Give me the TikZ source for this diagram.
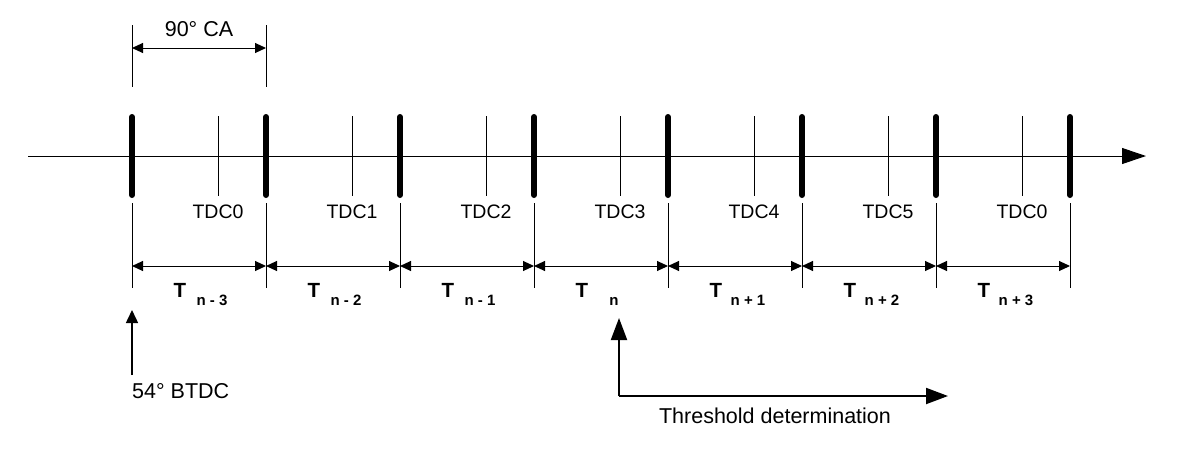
\documentclass[tikz,border=0pt]{standalone}
\usepackage{fontspec}
\setmainfont{Liberation Sans}
\usetikzlibrary{arrows.meta,calc}
\begin{document}
\begin{tikzpicture}[x=1pt,y=-1pt,
  lbl/.style={inner sep=0pt,anchor=base,font=\fontsize{19.5}{20}\selectfont},
  biglbl/.style={inner sep=0pt,anchor=base,font=\fontsize{21.5}{22}\selectfont},
  tlbl/.style={inner sep=0pt,anchor=base,font=\fontsize{20.5}{21}\selectfont\bfseries},
  sublbl/.style={inner sep=0pt,anchor=base,font=\fontsize{15}{15}\selectfont\bfseries},
  thinline/.style={line width=1pt},
  thickmark/.style={line width=6pt,line cap=round},
  dimarrow/.style={line width=1pt,{Triangle[length=11pt,width=10pt]}-{Triangle[length=11pt,width=10pt]}},
  axisarrow/.style={line width=1pt,-{Triangle[length=24pt,width=16pt]}},
  bigarrow/.style={line width=2pt,-{Triangle[length=22pt,width=16pt]}},
  smallarrow/.style={line width=1.5pt,-{Triangle[length=13pt,width=12pt]}}]
\useasboundingbox (0,0) rectangle (1200,456);
% axis
\coordinate (axs) at (28,156);
\coordinate (axe) at (1146,156);
\draw[axisarrow] (axs) -- (axe);
% marks
\foreach \i in {0,...,7}{
  \coordinate (mt\i) at ({132+134*\i},117);
  \coordinate (mb\i) at ({132+134*\i},195);
  \coordinate (et\i) at ({132+134*\i},203);
  \coordinate (eb\i) at ({132+134*\i},288);
  \coordinate (ed\i) at ({132+134*\i},266);
  \draw[thickmark] (mt\i) -- (mb\i);
  \draw[thinline] (et\i) -- (eb\i);
}
\foreach \i/\lab/\sub in {0/TDC0/n - 3,1/TDC1/n - 2,2/TDC2/n - 1,3/TDC3/n,4/TDC4/n + 1,5/TDC5/n + 2,6/TDC0/n + 3}{
  \coordinate (tt\i) at ({218+134*\i},116);
  \coordinate (tb\i) at ({218+134*\i},196);
  \draw[thinline] (tt\i) -- (tb\i);
  \node[lbl] (tdc\i) at ({218+134*\i},218) {\lab};
  \node[tlbl] (T\i) at ({180+134*\i},297) {T};
  \node[sublbl] (s\i) at ({212+134*\i},305) {\sub};
}
\foreach \i [evaluate=\i as \j using int(\i+1)] in {0,...,6}{
  \draw[dimarrow] (ed\i) -- (ed\j);
}
% 90 CA
\coordinate (ca0t) at (132,25);
\coordinate (ca0b) at (132,87);
\coordinate (ca1t) at (266,25);
\coordinate (ca1b) at (266,87);
\coordinate (ca0) at (132,48);
\coordinate (ca1) at (266,48);
\draw[thinline] (ca0t) -- (ca0b);
\draw[thinline] (ca1t) -- (ca1b);
\draw[dimarrow] (ca0) -- (ca1);
\node[biglbl] (calbl) at (199,36) {90° CA};
% 54 BTDC
\coordinate (bt0) at (132,375);
\coordinate (bt1) at (132,310);
\draw[smallarrow] (bt0) -- (bt1);
\node[biglbl,anchor=base west] (btdc) at (132,398) {54° BTDC};
% threshold
\coordinate (th0) at (619,318);
\coordinate (th1) at (619,396);
\coordinate (th2) at (948,396);
\draw[bigarrow] (th1) -- (th0);
\draw[bigarrow] (th1) -- (th2);
\node[biglbl] (thr) at (775,423) {Threshold determination};
\end{tikzpicture}
\end{document}
